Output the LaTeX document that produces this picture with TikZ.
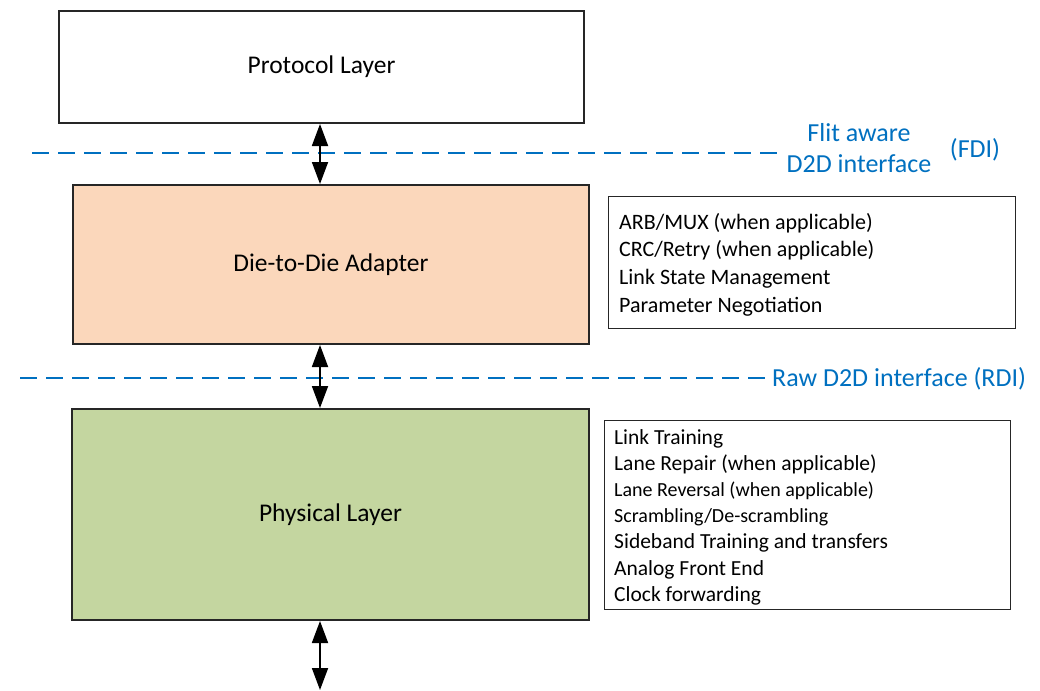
\documentclass[tikz,border=0pt]{standalone}
\usepackage{fontspec}
\setmainfont{Carlito}
\usetikzlibrary{arrows.meta}
\definecolor{ifblue}{HTML}{0070C0}
\definecolor{peach}{HTML}{FBD7BB}
\definecolor{leaf}{HTML}{C4D6A0}
\tikzset{
  layerbox/.style={draw=black!85, line width=2pt, anchor=north west, inner sep=0pt,
    font=\fontsize{25.5}{30}\selectfont},
  sidebox/.style={draw=black!85, line width=1.4pt, anchor=north west, inner sep=0pt},
  sidetext/.style={anchor=north west, align=left, inner sep=0pt},
  ifline/.style={draw=ifblue, line width=2pt, dash pattern=on 17pt off 9pt},
  iflabel/.style={text=ifblue, font=\fontsize{26}{31}\selectfont, align=center, inner sep=0pt},
  linkarrow/.style={draw=black, line width=1.8pt, {Triangle[length=22pt,width=16pt]}-{Triangle[length=22pt,width=16pt]}}
}
\begin{document}
\begin{tikzpicture}[x=1pt,y=-1pt]
\useasboundingbox (0,0) rectangle (1040,690);
% interface lines
\coordinate (fdiL) at (32,153);
\coordinate (fdiR) at (778,153);
\coordinate (rdiL) at (20,378);
\coordinate (rdiR) at (765,378);
\draw[ifline] (fdiL) -- (fdiR);
\draw[ifline] (rdiL) -- (rdiR);
% layers
\node[layerbox, minimum width=525pt, minimum height=112pt] (proto) at (58,10) {Protocol Layer};
\node[layerbox, fill=peach, minimum width=516pt, minimum height=159pt] (dda) at (72,184) {Die-to-Die Adapter};
\node[layerbox, fill=leaf, minimum width=517pt, minimum height=211pt] (phy) at (71,408) {Physical Layer};
% side boxes
\node[sidebox, minimum width=407pt, minimum height=132pt] (ddaside) at (608,196) {};
\node[sidetext, font=\fontsize{22}{27.7}\selectfont] (ddatext) at (619,213) {ARB/MUX (when applicable)\\CRC/Retry (when applicable)\\Link State Management\\Parameter Negotiation};
\node[sidebox, minimum width=406pt, minimum height=189pt] (physide) at (604,420) {};
\node[sidetext, font=\fontsize{21.5}{26.2}\selectfont] (phytext) at (614,429) {Link Training\\Lane Repair (when applicable)\\{\fontsize{20}{26.2}\selectfont Lane Reversal (when applicable)}\\{\fontsize{20}{26.2}\selectfont Scrambling/De-scrambling}\\Sideband Training and transfers\\Analog Front End\\Clock forwarding};
% labels
\node[iflabel] (fdilabel) at (859,148) {Flit aware\\D2D interface};
\node[iflabel, anchor=center] (fdiabbr) at (975,150) {(FDI)};
\node[iflabel, anchor=west] (rdilabel) at (772,379) {Raw D2D interface (RDI)};
% arrows
\coordinate (ax) at (320,0);
\coordinate (bot) at (320,690);
\draw[linkarrow] (proto.south -| ax) -- (dda.north -| ax);
\draw[linkarrow] (dda.south -| ax) -- (phy.north -| ax);
\draw[linkarrow] (phy.south -| ax) -- (bot);
\end{tikzpicture}
\end{document}
